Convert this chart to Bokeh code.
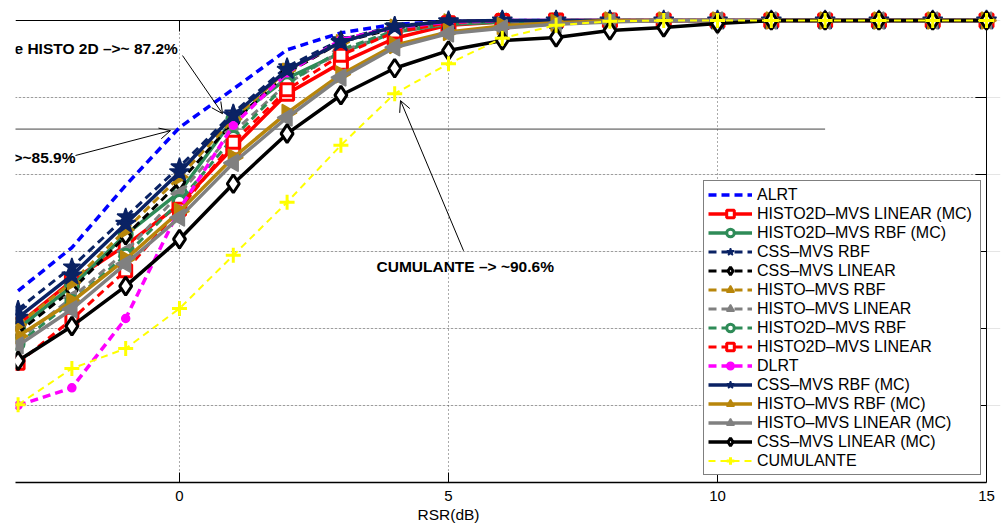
import numpy as np
from bokeh.plotting import figure
from bokeh.models import Range1d, FixedTicker, Title, Arrow, OpenHead
from bokeh.core.properties import value
from bokeh.embed import file_html
from bokeh.resources import INLINE

# ---------------- data ----------------
rsr = [-3, -2, -1, 0, 1, 2, 3, 4, 5, 6, 7, 8, 9, 10, 11, 12, 13, 14, 15]

alrt = [0.649, 0.705, 0.786, 0.861, 0.911, 0.962, 0.984, 0.995, 0.999, 1.0, 1.0, 1.0, 1.0, 1.0, 1.0, 1.0, 1.0, 1.0, 1.0]
histo2d_lin_mc = [0.605, 0.662, 0.708, 0.761, 0.835, 0.905, 0.945, 0.977, 0.994, 0.998, 1.0, 1.0, 1.0, 1.0, 1.0, 1.0, 1.0, 1.0, 1.0]
histo2d_rbf_mc = [0.600, 0.655, 0.722, 0.777, 0.872, 0.925, 0.958, 0.985, 0.995, 0.998, 1.0, 1.0, 1.0, 1.0, 1.0, 1.0, 1.0, 1.0, 1.0]
css_rbf = [0.625, 0.680, 0.745, 0.810, 0.880, 0.940, 0.975, 0.993, 0.999, 1.0, 1.0, 1.0, 1.0, 1.0, 1.0, 1.0, 1.0, 1.0, 1.0]
css_lin = [0.595, 0.650, 0.720, 0.790, 0.868, 0.932, 0.972, 0.990, 0.998, 1.0, 1.0, 1.0, 1.0, 1.0, 1.0, 1.0, 1.0, 1.0, 1.0]
histo_rbf = [0.605, 0.660, 0.728, 0.797, 0.872, 0.935, 0.972, 0.992, 0.999, 1.0, 1.0, 1.0, 1.0, 1.0, 1.0, 1.0, 1.0, 1.0, 1.0]
histo_lin = [0.585, 0.640, 0.700, 0.775, 0.855, 0.918, 0.960, 0.985, 0.996, 1.0, 1.0, 1.0, 1.0, 1.0, 1.0, 1.0, 1.0, 1.0, 1.0]
histo2d_rbf = [0.580, 0.635, 0.695, 0.765, 0.848, 0.918, 0.962, 0.987, 0.997, 1.0, 1.0, 1.0, 1.0, 1.0, 1.0, 1.0, 1.0, 1.0, 1.0]
histo2d_lin = [0.555, 0.612, 0.675, 0.755, 0.842, 0.910, 0.955, 0.985, 0.997, 1.0, 1.0, 1.0, 1.0, 1.0, 1.0, 1.0, 1.0, 1.0, 1.0]
dlrt = [0.500, 0.523, 0.613, 0.755, 0.864, 0.932, 0.975, 0.991, 0.998, 1.0, 1.0, 1.0, 1.0, 1.0, 1.0, 1.0, 1.0, 1.0, 1.0]
css_rbf_mc = [0.614, 0.669, 0.736, 0.803, 0.877, 0.936, 0.972, 0.992, 0.999, 1.0, 1.0, 1.0, 1.0, 1.0, 1.0, 1.0, 1.0, 1.0, 1.0]
histo_rbf_mc = [0.590, 0.635, 0.690, 0.752, 0.822, 0.880, 0.930, 0.968, 0.985, 0.993, 0.997, 1.0, 1.0, 1.0, 1.0, 1.0, 1.0, 1.0, 1.0]
histo_lin_mc = [0.578, 0.625, 0.684, 0.744, 0.815, 0.874, 0.926, 0.965, 0.983, 0.990, 0.995, 0.998, 1.0, 1.0, 1.0, 1.0, 1.0, 1.0, 1.0]
css_lin_mc = [0.558, 0.603, 0.655, 0.716, 0.788, 0.853, 0.903, 0.938, 0.961, 0.974, 0.978, 0.987, 0.991, 0.996, 1.0, 1.0, 1.0, 1.0, 1.0]
cumulante = [0.501, 0.548, 0.574, 0.626, 0.695, 0.764, 0.838, 0.905, 0.944, 0.977, 0.994, 0.999, 1.0, 1.0, 1.0, 1.0, 1.0, 1.0, 1.0]

x_ticks = [-5, 0, 5, 10, 15]
x_grid = [0, 5, 10]
y_grid = [0.5, 0.6, 0.7, 0.8, 0.9]

# reference level and annotations
level_859 = 0.859
ann_texts = ["e HISTO 2D \u2013>~ 87.2%", "\u2013>~85.9%", "CUMULANTE \u2013> ~90.6%"]

# ---------------- styles ----------------
NAVY = "#0A2264"
GOLD = "#B8860B"
GRAY = "#808080"
GREEN = "#2E8B57"

series = [
    # label, values, color, dash, width, marker, size, fill, angle
    ("ALRT", alrt, "#0000FF", "8 5", 3.5, None, 0, None, 0),
    ("HISTO2D\u2013MVS LINEAR (MC)", histo2d_lin_mc, "#FF0000", "solid", 3.5, "square", 13, "white", 0),
    ("HISTO2D\u2013MVS RBF (MC)", histo2d_rbf_mc, GREEN, "solid", 3.5, "circle", 13, "white", 0),
    ("CSS\u2013MVS RBF", css_rbf, NAVY, "8 5", 3.0, "star", 18, NAVY, 0),
    ("CSS\u2013MVS LINEAR", css_lin, "#000000", "8 5", 3.0, "diamond", 16, "white", 0),
    ("HISTO\u2013MVS RBF", histo_rbf, GOLD, "8 5", 3.0, "triangle", 15, GOLD, -np.pi / 2),
    ("HISTO\u2013MVS LINEAR", histo_lin, GRAY, "8 5", 3.0, "triangle", 15, GRAY, np.pi / 2),
    ("HISTO2D\u2013MVS RBF", histo2d_rbf, GREEN, "8 5", 3.0, "circle", 12, "white", 0),
    ("HISTO2D\u2013MVS LINEAR", histo2d_lin, "#FF0000", "8 5", 3.0, "square", 12, "white", 0),
    ("DLRT", dlrt, "#FF00FF", "8 5", 3.5, "circle", 8, "#FF00FF", 0),
    ("CSS\u2013MVS RBF (MC)", css_rbf_mc, NAVY, "solid", 3.5, "star", 21, NAVY, 0),
    ("HISTO\u2013MVS RBF (MC)", histo_rbf_mc, GOLD, "solid", 3.5, "triangle", 17, GOLD, -np.pi / 2),
    ("HISTO\u2013MVS LINEAR (MC)", histo_lin_mc, GRAY, "solid", 3.5, "triangle", 17, GRAY, np.pi / 2),
    ("CSS\u2013MVS LINEAR (MC)", css_lin_mc, "#000000", "solid", 3.5, "diamond", 18, "white", 0),
    ("CUMULANTE", cumulante, "#FFFF00", "7 5", 2.0, "cross", 15, None, 0),
]

XMIN, XMAX = -3.048, 15.0
YMIN, YMAX = 0.4, 1.0
PX_X = 53.8
PX_Y = 770.0

p = figure(width=1005, height=524,
           x_range=Range1d(XMIN, 15.26), y_range=Range1d(YMIN, 1.0195),
           output_backend="svg", toolbar_location=None,
           y_axis_location=None, x_axis_location="below",
           min_border_left=15, min_border_right=5,
           min_border_top=5, min_border_bottom=42)
p.outline_line_color = None
p.xgrid.visible = False
p.background_fill_color = "white"
p.border_fill_color = "white"

FONT = "Liberation Sans"

# bottom axis
ax = p.xaxis[0]
ax.ticker = FixedTicker(ticks=x_ticks)
ax.bounds = (XMIN, XMAX)
ax.major_tick_in = 10
ax.major_tick_out = 0
ax.minor_tick_line_color = None
ax.axis_line_width = 1.5
ax.axis_line_color = "black"
ax.major_tick_line_color = "black"
ax.major_label_text_font = FONT
ax.major_label_text_font_size = "15px"
ax.major_label_text_color = "black"
ax.major_label_standoff = 8

# x-axis title, placed under x = 5 like the cropped original
p.add_layout(Title(text="RSR(dB)", align="left", offset=402, standoff=0,
                   text_font=FONT, text_font_size="15.5px", text_font_style="normal",
                   text_color="black"), "below")

# grid (dotted)
p.segment(x0=x_grid, y0=[YMIN] * len(x_grid), x1=x_grid, y1=[YMAX] * len(x_grid),
          line_color="#555555", line_width=1, line_dash="1 3")
p.segment(x0=[XMIN] * len(y_grid), y0=y_grid, x1=[XMAX] * len(y_grid), y1=y_grid,
          line_color="#555555", line_width=1, line_dash="1 3")

# box: top and right lines
p.segment(x0=[XMIN, XMAX], y0=[YMAX, YMIN], x1=[XMAX, XMAX], y1=[YMAX, YMAX],
          line_color="black", line_width=1)
# top ticks (inward) and right ticks (inward)
top_ticks = [0, 5, 10]
p.segment(x0=top_ticks, y0=[YMAX] * 3, x1=top_ticks, y1=[YMAX - 11 / PX_Y] * 3,
          line_color="black", line_width=1)
p.segment(x0=[XMAX] * len(y_grid), y0=y_grid, x1=[XMAX - 11 / PX_X] * len(y_grid), y1=y_grid,
          line_color="black", line_width=1)

# reference horizontal line
p.segment(x0=[XMIN - 1], y0=[level_859], x1=[12], y1=[level_859], line_color="#444444", line_width=1)

# series
for name, vals, col, dash, lw, marker, size, fill, ang in series:
    p.line(rsr, vals, line_color=col, line_width=lw, line_dash=dash, legend_label=name)
    if marker is not None:
        if marker == "cross":
            p.scatter(rsr, vals, marker="cross", size=size, line_color=col, line_width=3,
                      legend_label=name)
        else:
            p.scatter(rsr, vals, marker=marker, size=size, line_color=col,
                      line_width=3 if fill == "white" else 1.5,
                      fill_color=fill, angle=ang, angle_units="rad", legend_label=name)

# annotation texts (glyphs -> clipped to frame like the cropped original)
p.text(x=[(14 - 179) / PX_X], y=[1 - (48 - 20) / PX_Y], text=[ann_texts[0]],
       text_font=value(FONT), text_font_style="bold", text_font_size="15.5px",
       text_align="left", text_baseline="middle", text_color="black")
p.text(x=[(75 - 179) / PX_X], y=[1 - (157 - 20) / PX_Y], text=[ann_texts[1]],
       text_font=value(FONT), text_font_style="bold", text_font_size="15.5px",
       text_align="right", text_baseline="middle", text_color="black")
p.text(x=[(376 - 179) / PX_X], y=[1 - (266 - 20) / PX_Y], text=[ann_texts[2]],
       text_font=value(FONT), text_font_style="bold", text_font_size="15.5px",
       text_align="left", text_baseline="middle", text_color="black")

# arrows
def add_arrow(x0, y0, x1, y1):
    p.add_layout(Arrow(end=OpenHead(size=11, line_color="black", line_width=1),
                       x_start=x0, y_start=y0, x_end=x1, y_end=y1,
                       line_color="black", line_width=1))

add_arrow(0.056, 0.9545, 0.80, 0.879)
add_arrow(-1.933, 0.8247, -0.167, 0.857)
add_arrow(5.28, 0.701, 4.108, 0.896)

# legend
lg = p.legend[0]
lg.location = (688, 7)
lg.glyph_width = 44
lg.glyph_height = 19
lg.label_height = 19
lg.spacing = 0
lg.padding = 4
lg.margin = 0
lg.label_standoff = 5
lg.label_width = 219
lg.label_text_font = FONT
lg.label_text_font_size = "16px"
lg.label_text_color = "black"
lg.border_line_color = "black"
lg.border_line_width = 1
lg.background_fill_color = "white"
lg.background_fill_alpha = 1.0

open("out.html", "w").write(file_html(p, INLINE))
